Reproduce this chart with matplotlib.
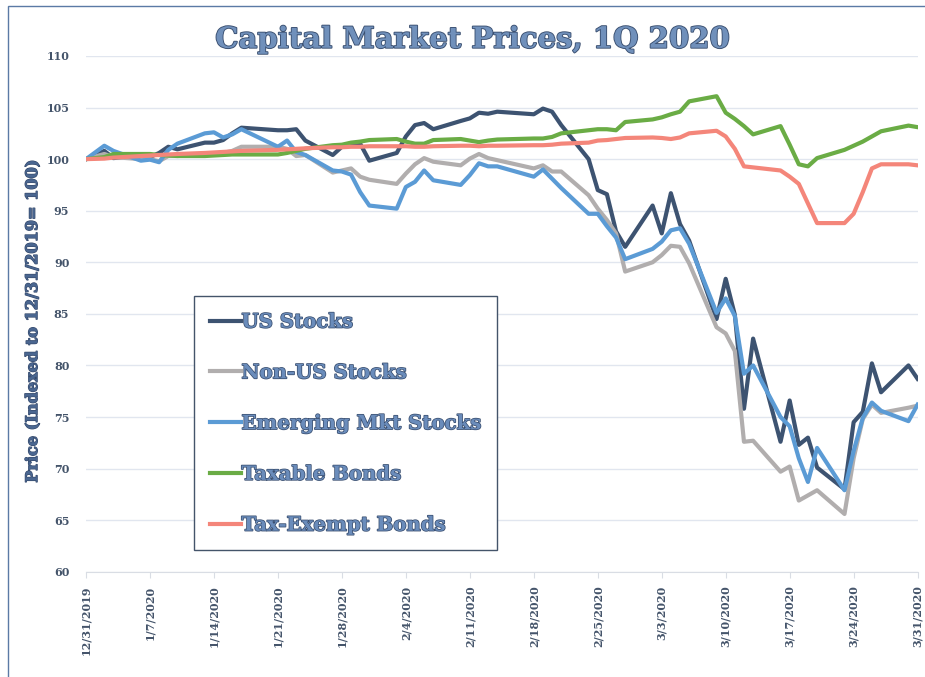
import datetime as dt
import matplotlib
matplotlib.use("Agg")
import matplotlib.pyplot as plt
import matplotlib.dates as mdates
import matplotlib.patheffects as pe
from matplotlib.patches import Rectangle

# trading days, Q1 2020
dates = ["2019-12-31",
         "2020-01-02", "2020-01-03", "2020-01-06", "2020-01-07", "2020-01-08", "2020-01-09", "2020-01-10",
         "2020-01-13", "2020-01-14", "2020-01-15", "2020-01-16", "2020-01-17", "2020-01-21", "2020-01-22",
         "2020-01-23", "2020-01-24", "2020-01-27", "2020-01-28", "2020-01-29", "2020-01-30", "2020-01-31",
         "2020-02-03", "2020-02-04", "2020-02-05", "2020-02-06", "2020-02-07", "2020-02-10", "2020-02-11",
         "2020-02-12", "2020-02-13", "2020-02-14", "2020-02-18", "2020-02-19", "2020-02-20", "2020-02-21",
         "2020-02-24", "2020-02-25", "2020-02-26", "2020-02-27", "2020-02-28",
         "2020-03-02", "2020-03-03", "2020-03-04", "2020-03-05", "2020-03-06", "2020-03-09", "2020-03-10",
         "2020-03-11", "2020-03-12", "2020-03-13", "2020-03-16", "2020-03-17", "2020-03-18", "2020-03-19",
         "2020-03-20", "2020-03-23", "2020-03-24", "2020-03-25", "2020-03-26", "2020-03-27", "2020-03-30",
         "2020-03-31"]

us_stocks = [100.0,
             100.8, 100.1, 100.4, 100.2, 100.6, 101.2, 100.95,
             101.6, 101.6, 101.85, 102.5, 103.05, 102.8, 102.8,
             102.9, 101.8, 100.4, 101.2, 101.3, 101.5, 99.85,
             100.6, 102.2, 103.3, 103.5, 102.9, 103.7, 103.95,
             104.5, 104.4, 104.6, 104.35, 104.9, 104.6, 103.3,
             100.0, 97.0, 96.6, 93.0, 91.5,
             95.5, 92.8, 96.7, 93.7, 92.1, 84.5, 88.4,
             84.9, 75.8, 82.6, 72.6, 76.6, 72.3, 73.0,
             70.1, 68.0, 74.5, 75.5, 80.2, 77.4, 80.0,
             78.7]

non_us_stocks = [100.0,
                 100.5, 100.2, 100.0, 100.0, 99.8, 100.3, 100.3,
                 100.5, 100.5, 100.6, 100.8, 101.2, 101.2, 101.0,
                 100.3, 100.4, 98.7, 98.9, 99.1, 98.3, 98.0,
                 97.6, 98.6, 99.5, 100.1, 99.75, 99.4, 100.05,
                 100.5, 100.1, 99.9, 99.1, 99.4, 98.8, 98.8,
                 96.5, 95.2, 94.1, 92.8, 89.1,
                 90.0, 90.7, 91.6, 91.5, 89.9, 83.7, 83.1,
                 81.4, 72.6, 72.7, 69.7, 70.2, 66.9, 67.4,
                 67.9, 65.6, 71.0, 74.8, 76.2, 75.4, 75.9,
                 76.1]

em_stocks = [100.0,
             101.3, 100.8, 99.85, 99.95, 99.7, 100.9, 101.5,
             102.5, 102.6, 102.1, 102.4, 102.9, 101.2, 101.8,
             100.7, 100.4, 98.9, 98.8, 98.5, 96.8, 95.5,
             95.2, 97.3, 97.8, 98.9, 97.95, 97.5, 98.45,
             99.6, 99.3, 99.3, 98.3, 99.0, 98.1, 97.2,
             94.7, 94.7, 93.5, 92.4, 90.3,
             91.3, 92.0, 93.1, 93.3, 91.8, 85.1, 86.5,
             84.8, 79.2, 80.0, 75.0, 74.1, 71.0, 68.7,
             72.0, 67.9, 71.7, 74.9, 76.4, 75.6, 74.6,
             76.2]

taxable_bonds = [100.0,
                 100.2, 100.5, 100.5, 100.5, 100.4, 100.35, 100.3,
                 100.3, 100.35, 100.4, 100.45, 100.45, 100.45, 100.6,
                 100.8, 101.0, 101.35, 101.4, 101.6, 101.7, 101.85,
                 101.95, 101.7, 101.5, 101.5, 101.85, 101.95, 101.8,
                 101.65, 101.8, 101.9, 102.0, 102.0, 102.15, 102.5,
                 102.8, 102.9, 102.9, 102.8, 103.6,
                 103.85, 104.05, 104.35, 104.6, 105.6, 106.1, 104.5,
                 103.9, 103.2, 102.4, 103.2, 101.4, 99.5, 99.3,
                 100.1, 100.9, 101.3, 101.7, 102.2, 102.7, 103.25,
                 103.1]

tax_exempt_bonds = [100.0,
                    100.05, 100.15, 100.3, 100.35, 100.4, 100.45, 100.5,
                    100.6, 100.65, 100.7, 100.75, 100.8, 100.9, 100.95,
                    101.0, 101.05, 101.15, 101.15, 101.2, 101.2, 101.25,
                    101.25, 101.25, 101.2, 101.2, 101.25, 101.3, 101.3,
                    101.25, 101.3, 101.3, 101.35, 101.35, 101.4, 101.5,
                    101.6, 101.8, 101.85, 101.95, 102.05,
                    102.1, 102.05, 101.95, 102.1, 102.5, 102.75, 102.2,
                    101.0, 99.3, 99.2, 98.9, 98.3, 97.6, 95.7,
                    93.8, 93.8, 94.7, 96.8, 99.1, 99.5, 99.5,
                    99.4]

series_names = ["US Stocks", "Non-US Stocks", "Emerging Mkt Stocks", "Taxable Bonds", "Tax-Exempt Bonds"]
series_colors = ["#3d5371", "#b1aeae", "#5b9bd5", "#6aac45", "#f4867a"]

tick_dates = ["2019-12-31", "2020-01-07", "2020-01-14", "2020-01-21", "2020-01-28", "2020-02-04", "2020-02-11",
              "2020-02-18", "2020-02-25", "2020-03-03", "2020-03-10", "2020-03-17", "2020-03-24", "2020-03-31"]
tick_labels = ["12/31/2019", "1/7/2020", "1/14/2020", "1/21/2020", "1/28/2020", "2/4/2020", "2/11/2020",
               "2/18/2020", "2/25/2020", "3/3/2020", "3/10/2020", "3/17/2020", "3/24/2020", "3/31/2020"]
y_ticks = [60, 65, 70, 75, 80, 85, 90, 95, 100, 105, 110]

x = [dt.datetime.strptime(d, "%Y-%m-%d") for d in dates]
xt = [dt.datetime.strptime(d, "%Y-%m-%d") for d in tick_dates]

text_col = "#44546a"

fig = plt.figure(figsize=(9.25, 6.77), dpi=100)
ax = fig.add_axes([0.093, 0.1555, 0.899, 0.7618])

all_series = [us_stocks, non_us_stocks, em_stocks, taxable_bonds, tax_exempt_bonds]
for vals, name, col in zip(all_series, series_names, series_colors):
    ax.plot(x, vals, color=col, lw=3.0, label=name)

ax.set_xlim(xt[0], xt[-1])
ax.set_ylim(60, 110)
ax.set_yticks(y_ticks)
ax.set_xticks(mdates.date2num(xt))
ax.set_xticklabels(tick_labels, rotation=90)

ax.grid(axis="y", color="#e1e6ef", lw=1.0)
ax.set_axisbelow(True)
for s in ["top", "right", "left"]:
    ax.spines[s].set_visible(False)
ax.spines["bottom"].set_color("#d9dde4")
ax.tick_params(axis="y", length=0, pad=12, labelsize=8, labelcolor=text_col)
ax.tick_params(axis="x", length=4, color="#d9dde4", pad=6, labelsize=8, labelcolor=text_col)
for lab in ax.get_xticklabels() + ax.get_yticklabels():
    lab.set_fontfamily("DejaVu Serif")
    lab.set_fontweight("bold")

ax.set_ylabel("Price (Indexed to 12/31/2019= 100)", fontsize=11.6, fontweight="bold",
              family="DejaVu Serif", color="#4a6690",
              path_effects=[pe.withStroke(linewidth=0.9, foreground="#34486a")])
ax.yaxis.set_label_coords(-0.054, 0.486)

fig.text(0.511, 0.942, "Capital Market Prices, 1Q 2020", ha="center", va="center",
         fontsize=21, fontweight="bold", family="DejaVu Serif", color="#7090bb",
         path_effects=[pe.withStroke(linewidth=1.3, foreground="#3a4f70")])

leg = ax.legend(loc="upper left", bbox_to_anchor=(0.13, 0.535), frameon=True, fancybox=False,
                edgecolor="#44546a", framealpha=1, handlelength=1.6, handletextpad=0.0,
                labelspacing=1.56, borderpad=0.8, borderaxespad=0,
                prop={"family": "DejaVu Serif", "weight": "bold", "size": 14.2})
leg.get_frame().set_linewidth(1.0)
for t in leg.get_texts():
    t.set_color("#6a8cbb")
    t.set_path_effects([pe.withStroke(linewidth=1.1, foreground="#3a4f70")])
for h in leg.get_lines():
    h.set_linewidth(3.0)

# outer frame of the picture
fig.patches.append(Rectangle((8 / 925, -0.01), 1.0, 1.0 - 6 / 677 + 0.01, transform=fig.transFigure,
                             fill=False, edgecolor="#5b7aa5", lw=1.0))

fig.savefig("out.png", dpi=100)
